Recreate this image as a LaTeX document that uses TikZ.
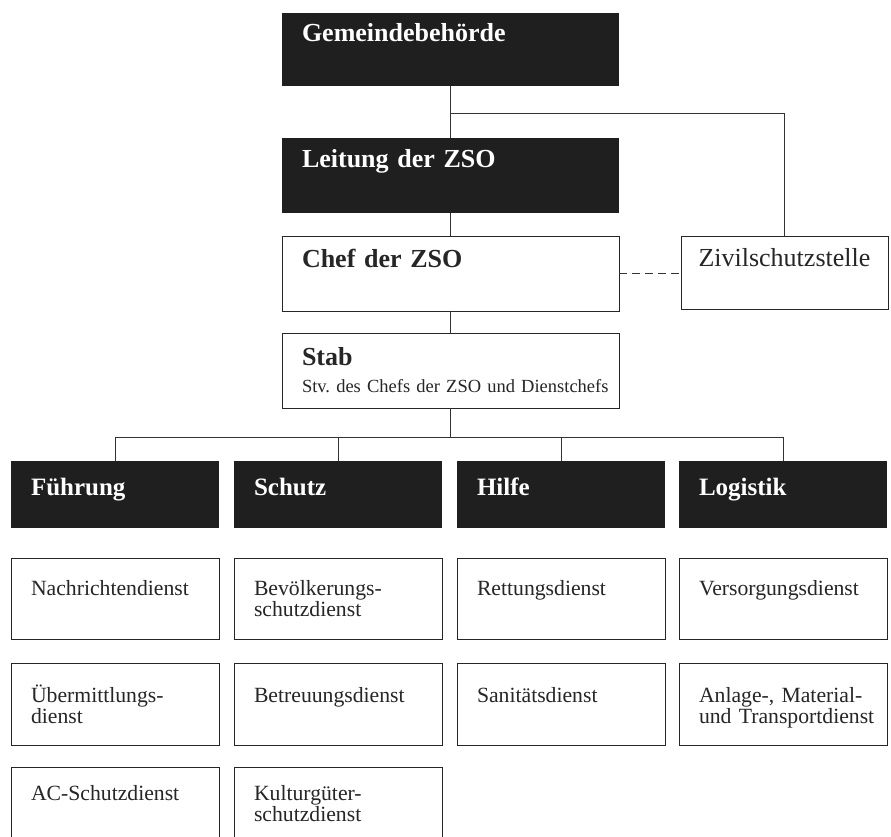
\documentclass[tikz,border=0pt]{standalone}
\usepackage{fontspec}
\setmainfont{Liberation Serif}
\begin{document}
\begin{tikzpicture}[x=1pt, y=-1pt,
    box/.style={anchor=north west, inner xsep=20pt, inner ysep=0pt, outer sep=0pt, align=left},
    kopf/.style={box, fill=black!88, text=white, font=\fontsize{26}{27}\selectfont\bfseries},
    feld/.style={box, draw=black!85, line width=.9pt, fill=white, text=black!85, font=\fontsize{21.7}{21}\selectfont},
    linie/.style={draw=black!80, line width=.8pt}]
\path[use as bounding box, fill=white] (0,0) rectangle (891,837);

% Leitung
\node[kopf, text width=297pt, text height=29pt, text depth=44pt] (gb) at (282,13) {Gemeindebehörde};
\node[kopf, text width=297pt, text height=30pt, text depth=45pt] (lz) at (282,138) {Leitung der ZSO};
\node[feld, font=\fontsize{26}{27}\selectfont\bfseries, text width=297pt, text height=31pt, text depth=44pt] (chef) at (282,236) {Chef der ZSO};
\node[feld, font=\fontsize{26}{27}\selectfont, inner xsep=17.5pt, text width=172pt, text height=30pt, text depth=43pt] (zs) at (681,236) {\mbox{Zivilschutzstelle}};
\node[feld, font=\fontsize{18.5}{27}\selectfont, text width=297pt, text height=32pt, text depth=43pt] (stab) at (282,333)
    {{\fontsize{26}{27}\selectfont\bfseries Stab}\\\mbox{Stv.\ des Chefs der ZSO und Dienstchefs}};

% Dienstbereiche
\foreach \n/\x/\t in {fue/11/Führung, schu/234/Schutz, hil/457/Hilfe, log/679/Logistik}
    \node[kopf, font=\fontsize{25}{27}\selectfont\bfseries, text width=168pt, text height=34pt, text depth=33pt] (\n) at (\x,461) {\t};

% Dienste
\foreach \n/\x/\t in {fue/11/{Nachrichtendienst}, schu/234/{Bevölkerungs-\\schutzdienst}, hil/457/{Rettungsdienst}, log/679/{Versorgungsdienst}}
    \node[feld, text width=168pt, text height=37pt, text depth=44pt] (\n1) at (\x,558) {\t};
\foreach \n/\x/\t in {fue/11/{Übermittlungs-\\dienst}, schu/234/{Betreuungsdienst}, hil/457/{Sanitätsdienst}, log/679/{Anlage-, Material-\\\mbox{und Transportdienst}}}
    \node[feld, text width=168pt, text height=39pt, text depth=43pt] (\n2) at (\x,663) {\t};
\foreach \n/\x/\t in {fue/11/{AC-Schutzdienst}, schu/234/{Kulturgüter-\\schutzdienst}}
    \node[feld, text width=168pt, text height=33pt, text depth=49pt] (\n3) at (\x,767) {\t};

\coordinate (ast) at (gb.south |- 0,113);
\coordinate (vt) at (stab.south |- 0,437);
\draw[linie] (gb.south) -- (lz.north);
\draw[linie] (ast) -| (zs.north);
\draw[linie] (lz.south) -- (chef.north);
\draw[linie, dash pattern=on 8pt off 5pt] (chef.east) -- (chef.east -| zs.west);
\draw[linie] (chef.south) -- (stab.north);
\draw[linie] (stab.south) -- (vt);
\foreach \n in {fue, schu, hil, log}
    \draw[linie] (\n.north) |- (vt);

\end{tikzpicture}
\end{document}
